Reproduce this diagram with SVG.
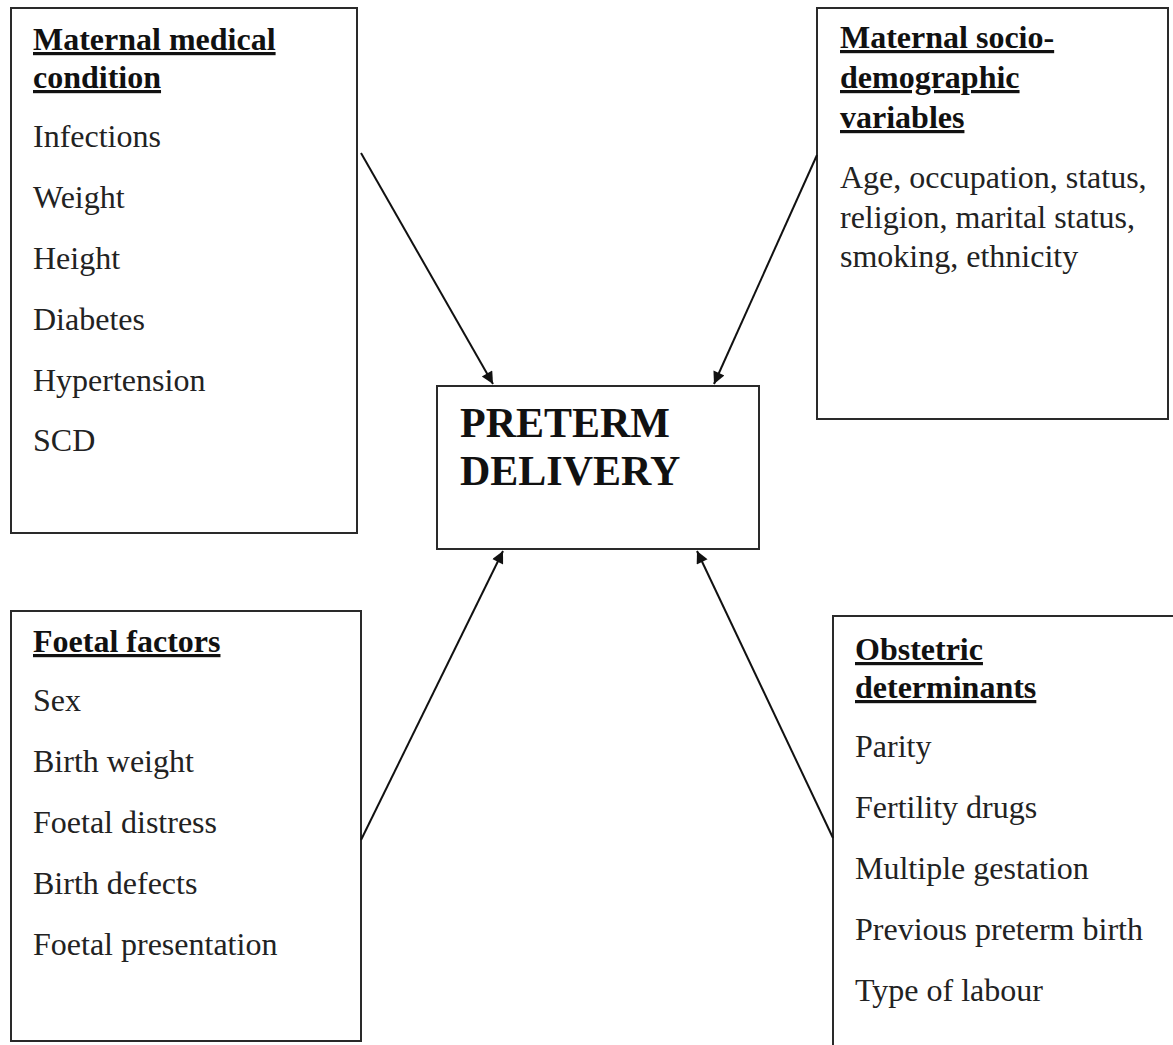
<svg xmlns="http://www.w3.org/2000/svg" width="1173" height="1045" viewBox="0 0 1173 1045">
<style>
.box{fill:#fff;stroke:#2a2a2a;stroke-width:2}
.h{font-family:"Liberation Serif","Times New Roman",serif;font-weight:bold;font-size:32px;fill:#111;text-decoration:underline}
.t{font-family:"Liberation Serif","Times New Roman",serif;font-size:32px;fill:#222}
.c{font-family:"Liberation Serif","Times New Roman",serif;font-weight:bold;font-size:42px;fill:#111}
.ln{stroke:#111;stroke-width:2;fill:none;marker-end:url(#ah)}
</style>
<defs>
<marker id="ah" viewBox="0 0 10 10" refX="10" refY="5" markerWidth="16" markerHeight="12" markerUnits="userSpaceOnUse" orient="auto">
<path d="M0,0 L10,5 L0,10 z" fill="#111"/>
</marker>
</defs>
<rect width="1173" height="1045" fill="#fff"/>
<g id="node-medical">
<rect class="box" x="11" y="8" width="346" height="525"/>
<text class="h" x="33" y="50">Maternal medical</text>
<text class="h" x="33" y="88">condition</text>
<text class="t" x="33" y="147">Infections</text>
<text class="t" x="33" y="208">Weight</text>
<text class="t" x="33" y="269">Height</text>
<text class="t" x="33" y="330">Diabetes</text>
<text class="t" x="33" y="391">Hypertension</text>
<text class="t" x="33" y="451">SCD</text>
</g>
<g id="node-socio">
<rect class="box" x="817" y="8" width="351" height="411"/>
<text class="h" x="840" y="48">Maternal socio-</text>
<text class="h" x="840" y="88">demographic</text>
<text class="h" x="840" y="128">variables</text>
<text class="t" x="840" y="188">Age, occupation, status,</text>
<text class="t" x="840" y="228">religion, marital status,</text>
<text class="t" x="840" y="267">smoking, ethnicity</text>
</g>
<g id="node-preterm">
<rect class="box" x="437" y="386" width="322" height="163"/>
<text class="c" x="460" y="437">PRETERM</text>
<text class="c" x="460" y="485">DELIVERY</text>
</g>
<g id="node-foetal">
<rect class="box" x="11" y="611" width="350" height="430"/>
<text class="h" x="33" y="652">Foetal factors</text>
<text class="t" x="33" y="711">Sex</text>
<text class="t" x="33" y="772">Birth weight</text>
<text class="t" x="33" y="833">Foetal distress</text>
<text class="t" x="33" y="894">Birth defects</text>
<text class="t" x="33" y="955">Foetal presentation</text>
</g>
<g id="node-obstetric">
<rect class="box" x="833" y="616" width="345" height="440"/>
<text class="h" x="855" y="660">Obstetric</text>
<text class="h" x="855" y="698">determinants</text>
<text class="t" x="855" y="757">Parity</text>
<text class="t" x="855" y="818">Fertility drugs</text>
<text class="t" x="855" y="879">Multiple gestation</text>
<text class="t" x="855" y="940">Previous preterm birth</text>
<text class="t" x="855" y="1001">Type of labour</text>
</g>
<g id="connectors">
<line class="ln" x1="361" y1="153" x2="493" y2="384"/>
<line class="ln" x1="817" y1="155" x2="714" y2="384"/>
<line class="ln" x1="361" y1="840" x2="503" y2="551"/>
<line class="ln" x1="833" y1="838" x2="697" y2="551"/>
</g>
</svg>
